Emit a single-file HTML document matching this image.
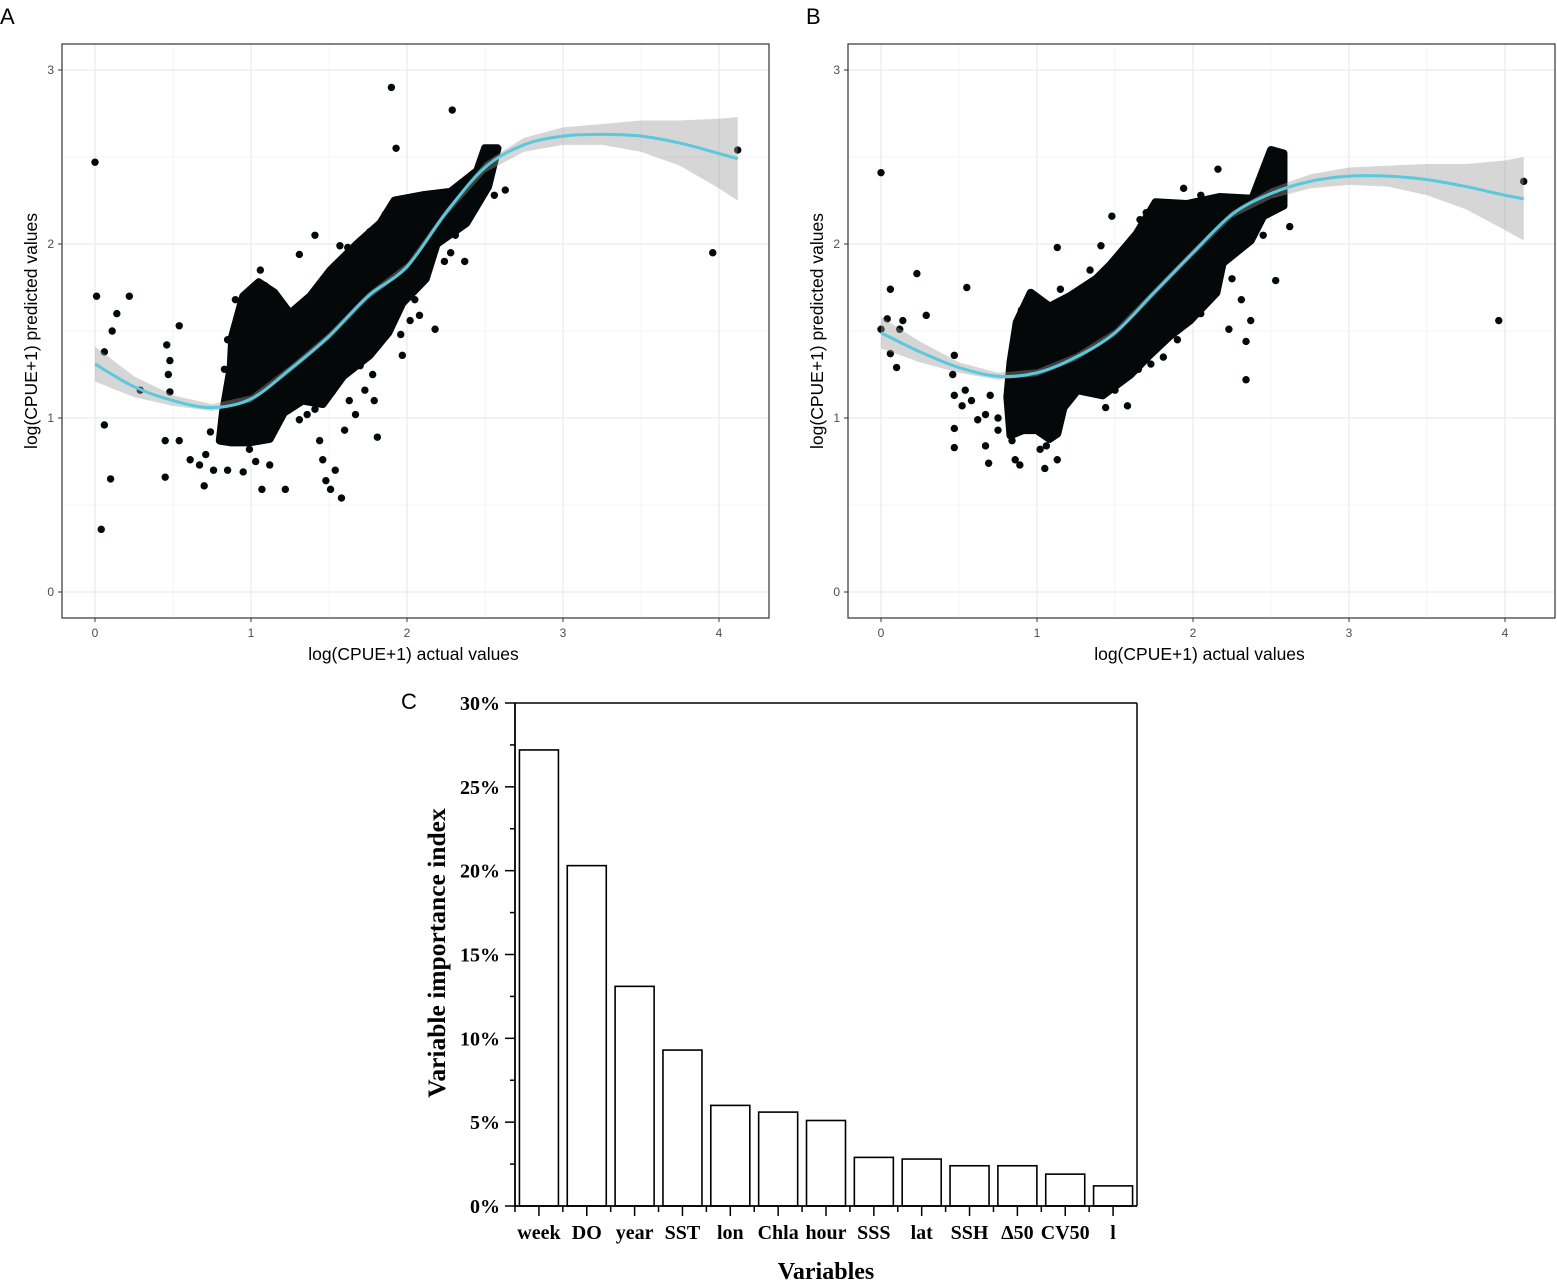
<!DOCTYPE html>
<html><head><meta charset="utf-8"><style>
html,body{margin:0;padding:0;background:#fff;}
svg{display:block;}
</style></head><body>
<svg id="fig" width="1557" height="1280" xmlns="http://www.w3.org/2000/svg">
<text x="0" y="24" font-family="Liberation Sans, sans-serif" font-size="22" fill="#000">A</text>
<text x="806" y="24" font-family="Liberation Sans, sans-serif" font-size="22" fill="#000">B</text>
<text x="401" y="709" font-family="Liberation Sans, sans-serif" font-size="22" fill="#000">C</text>
</svg>
<script>
// ---------- Panel A data ----------
const curveAx = [0,0.25,0.5,0.75,1.0,1.25,1.5,1.75,2.0,2.25,2.5,2.75,3.0,3.25,3.5,3.75,4.0,4.12];
const curveAy = [1.31,1.18,1.10,1.06,1.11,1.28,1.47,1.70,1.87,2.18,2.44,2.57,2.62,2.63,2.62,2.58,2.52,2.49];
const bandAw  = [0.10,0.06,0.03,0.02,0.02,0.02,0.02,0.02,0.02,0.02,0.03,0.04,0.05,0.06,0.09,0.13,0.20,0.24];
const cloudA = [[0.80,0.87],[0.82,1.03],[0.87,1.29],[0.88,1.47],[0.95,1.70],[1.05,1.78],[1.15,1.72],[1.25,1.60],[1.38,1.70],[1.51,1.85],[1.68,2.00],[1.83,2.12],[1.92,2.25],[2.10,2.28],[2.28,2.30],[2.45,2.42],[2.50,2.55],[2.58,2.55],[2.52,2.33],[2.38,2.12],[2.19,2.00],[2.12,1.80],[1.97,1.66],[1.88,1.49],[1.76,1.36],[1.59,1.24],[1.46,1.08],[1.33,1.10],[1.21,1.03],[1.12,0.88],[0.99,0.86],[0.87,0.86]];
const pointsA = [[0,2.47],[0.01,1.70],[0.22,1.70],[0.14,1.60],[0.11,1.50],[0.06,1.38],[0.06,0.96],[0.10,0.65],[0.04,0.36],[0.29,1.16],[4.12,2.54],[3.96,1.95],[1.90,2.90],[1.93,2.55],[2.29,2.77],
[0.54,1.53],[0.46,1.42],[0.48,1.33],[0.47,1.25],[0.48,1.15],[0.45,0.87],[0.45,0.66],[0.54,0.87],[0.61,0.76],[0.70,0.61],[0.67,0.73],[0.74,0.92],[0.76,0.70],[0.71,0.79],[0.85,0.70],[0.95,0.69],[1.07,0.59],[1.22,0.59],[1.12,0.73],[0.99,0.82],[1.03,0.75],
[1.44,0.87],[1.46,0.76],[1.48,0.64],[1.51,0.59],[1.58,0.54],[1.54,0.70],[1.31,0.99],[1.60,0.93],[1.63,1.10],[1.81,0.89],[1.79,1.10],[1.78,1.25],[1.73,1.16],[1.67,1.02],
[1.97,1.36],[2.02,1.56],[2.08,1.59],[2.18,1.51],[2.24,1.90],[2.37,1.90],[2.47,2.31],[2.63,2.31],[2.56,2.28],[2.31,2.05],[2.12,1.88],[2.05,1.68],[1.96,1.48],
[1.41,2.05],[1.31,1.94],[1.06,1.85],[1.09,1.76],[0.93,1.56],[0.85,1.45],[0.90,1.68],[1.12,1.62],[0.99,1.39],[0.83,1.28],[1.25,1.45],[1.57,1.99],[1.86,2.17],[1.76,2.07],
[1.25,1.19],[1.31,1.28],[1.15,1.10],[0.93,1.10],[0.96,0.99],[1.51,1.22],[1.41,1.05],
[1.18,1.50],[1.32,1.62],[1.45,1.78],[1.62,1.93],[2.00,2.20],[2.22,2.22],[2.40,2.20],[1.70,1.30],[1.52,1.15],[1.36,1.02],[0.90,0.95],[1.05,0.92],[1.62,1.98],[2.05,1.75],[2.28,1.95]];

// ---------- Panel B data ----------
const curveBx = [0,0.25,0.5,0.75,1.0,1.25,1.5,1.75,2.0,2.25,2.5,2.75,3.0,3.25,3.5,3.75,4.0,4.12];
const curveBy = [1.49,1.38,1.29,1.24,1.26,1.35,1.49,1.72,1.95,2.17,2.29,2.36,2.39,2.39,2.37,2.33,2.28,2.26];
const bandBw  = [0.09,0.06,0.03,0.02,0.02,0.02,0.02,0.02,0.02,0.02,0.03,0.04,0.05,0.06,0.09,0.13,0.20,0.24];
const cloudB = [[0.83,1.32],[0.87,1.55],[0.96,1.72],[1.08,1.64],[1.21,1.70],[1.38,1.80],[1.47,1.88],[1.64,2.06],[1.76,2.24],[1.96,2.23],[2.17,2.27],[2.38,2.26],[2.50,2.54],[2.58,2.52],[2.58,2.22],[2.45,2.16],[2.37,2.02],[2.19,1.89],[2.15,1.72],[1.98,1.56],[1.85,1.47],[1.72,1.36],[1.60,1.25],[1.42,1.13],[1.26,1.16],[1.17,1.06],[1.13,0.91],[1.08,0.88],[1.00,0.93],[0.91,0.93],[0.83,0.90],[0.81,1.12]];
const pointsB = [[0,2.41],[0.06,1.74],[0.23,1.83],[0.29,1.59],[0.55,1.75],[0.04,1.57],[0.14,1.56],[0,1.51],[0.12,1.51],[0.06,1.37],[0.10,1.29],[4.12,2.36],[3.96,1.56],[1.13,1.98],[1.48,2.16],[1.94,2.32],[2.16,2.43],[2.62,2.10],[2.53,1.79],[2.34,1.22],[2.34,1.44],[2.37,1.56],[2.23,1.51],[2.31,1.68],[2.04,1.68],[1.81,1.35],[1.73,1.31],[1.58,1.07],[1.44,1.06],[1.41,1.20],[1.21,1.68],[1.15,1.74],[1.34,1.85],[1.41,1.99],[1.66,2.14],
[0.47,1.36],[0.46,1.25],[0.47,1.13],[0.47,0.94],[0.47,0.83],[0.54,1.16],[0.52,1.07],[0.58,1.10],[0.62,0.99],[0.67,1.02],[0.69,0.74],[0.67,0.84],[0.75,1.00],[0.75,0.93],[0.70,1.13],[0.83,0.99],[0.84,0.87],[0.86,0.76],[0.89,0.73],[1.02,0.82],[1.05,0.71],[1.13,0.76],[1.06,0.84],[0.96,1.10],[1.15,1.22],[1.24,1.22],[1.31,1.15],
[1.30,1.75],[1.55,1.95],[1.70,2.18],[2.05,2.28],[2.30,2.24],[2.45,2.05],[2.25,1.80],[2.05,1.60],[1.90,1.45],[1.65,1.28],[1.50,1.16],[0.90,1.62],[1.00,1.05],[1.20,1.10]];

const xTicks = [0,1,2,3,4];
const yTicks = [0,1,2,3];

// ---------- Panel C data ----------
const categories = ["week","DO","year","SST","lon","Chla","hour","SSS","lat","SSH","\u039450","CV50","l"];
const importance = [27.2,20.3,13.1,9.3,6.0,5.6,5.1,2.9,2.8,2.4,2.4,1.9,1.2];
const yTicksC = [0,5,10,15,20,25,30];
const yTickLabelsC = ["0%","5%","10%","15%","20%","25%","30%"];

const NS = "http://www.w3.org/2000/svg";
const svg = document.getElementById('fig');
function mk(tag, attrs, parent){
  const e = document.createElementNS(NS, tag);
  for (const k in attrs) e.setAttribute(k, attrs[k]);
  (parent||svg).appendChild(e);
  return e;
}

function scatterPanel(id, left, x0px, curveX, curveY, bandW, cloud, pts){
  const g = mk('g', {});
  
  
  const top = 44, right = left + 707, bottom = 618;
  const sx = v => x0px + v * 156;
  const sy = v => 592 - v * 174;
  mk('rect', {x:left, y:top, width:707, height:574, fill:'#fff'}, g);
  for (let v = -0.5; v <= 4.5; v += 1) { const X = sx(v); if (X > left && X < right) mk('line', {x1:X, x2:X, y1:top, y2:bottom, stroke:'#f4f4f4', 'stroke-width':1}, g); }
  for (let v = -0.5; v <= 3.5; v += 1) { const Y = sy(v); if (Y > top && Y < bottom) mk('line', {x1:left, x2:right, y1:Y, y2:Y, stroke:'#f4f4f4', 'stroke-width':1}, g); }
  xTicks.forEach(v => {
    const X = sx(v);
    mk('line', {x1:X, x2:X, y1:top, y2:bottom, stroke:'#ebebeb', 'stroke-width':1.3}, g);
    mk('line', {x1:X, x2:X, y1:bottom, y2:bottom+4, stroke:'#333', 'stroke-width':1}, g);
    const t = mk('text', {x:X, y:bottom+19, 'text-anchor':'middle', 'font-family':'Liberation Sans, sans-serif', 'font-size':12, fill:'#4d4d4d'}, g);
    t.textContent = v;
    
    
  });
  yTicks.forEach(v => {
    const Y = sy(v);
    mk('line', {x1:left, x2:right, y1:Y, y2:Y, stroke:'#ebebeb', 'stroke-width':1.3}, g);
    mk('line', {x1:left-4, x2:left, y1:Y, y2:Y, stroke:'#333', 'stroke-width':1}, g);
    const t = mk('text', {x:left-8, y:Y+4, 'text-anchor':'end', 'font-family':'Liberation Sans, sans-serif', 'font-size':12, fill:'#4d4d4d'}, g);
    t.textContent = v;
    
    
  });
  const cp = mk('polygon', {points: cloud.map(p => sx(p[0]) + ',' + sy(p[1])).join(' '), fill:'#050808', stroke:'#050808', 'stroke-width':8, 'stroke-linejoin':'round'}, g);
  
  
  pts.forEach(p => {
    const c = mk('circle', {cx:sx(p[0]), cy:sy(p[1]), r:3.7, fill:'#050808'}, g);
    
    
  });
  let up = curveX.map((v,i) => sx(v) + ',' + sy(curveY[i] + bandW[i]));
  let lo = curveX.map((v,i) => sx(v) + ',' + sy(curveY[i] - bandW[i])).reverse();
  const band = mk('polygon', {points: up.concat(lo).join(' '), fill:'#999', 'fill-opacity':0.4}, g);
  
  
  const P = curveX.map((v,i) => [sx(v), sy(curveY[i])]);
  let d = 'M' + P[0][0] + ',' + P[0][1];
  for (let i = 0; i < P.length - 1; i++) {
    const p0 = P[Math.max(0,i-1)], p1 = P[i], p2 = P[i+1], p3 = P[Math.min(P.length-1,i+2)];
    const c1 = [p1[0] + (p2[0]-p0[0])/6, p1[1] + (p2[1]-p0[1])/6];
    const c2 = [p2[0] - (p3[0]-p1[0])/6, p2[1] - (p3[1]-p1[1])/6];
    d += ' C' + c1 + ' ' + c2 + ' ' + p2;
  }
  const ln = mk('path', {d:d, fill:'none', stroke:'#5bc8dc', 'stroke-width':3}, g);
  
  
  mk('rect', {x:left, y:top, width:707, height:574, fill:'none', stroke:'#333', 'stroke-width':1.2}, g);
  const xt = mk('text', {x:(left+right)/2 - 2, y:660, 'text-anchor':'middle', 'font-family':'Liberation Sans, sans-serif', 'font-size':17.5, fill:'#000'}, g);
  xt.textContent = 'log(CPUE+1) actual values';
  
  
  const yx = left - 25;
  const yt = mk('text', {x:yx, y:331, 'text-anchor':'middle', 'font-family':'Liberation Sans, sans-serif', 'font-size':17.5, fill:'#000', transform:'rotate(-90 ' + yx + ' 331)'}, g);
  yt.textContent = 'log(CPUE+1) predicted values';
  
  
}

scatterPanel('panel-a', 62, 95, curveAx, curveAy, bandAw, cloudA, pointsA);
scatterPanel('panel-b', 848, 881, curveBx, curveBy, bandBw, cloudB, pointsB);

(function(){
  const g = mk('g', {});
  
  
  const L = 515, R = 1137, T = 703, B = 1206;
  const band = (R - L) / categories.length;
  const sy = v => B - v / 30 * (B - T);
  const serif = 'Liberation Serif, serif';
  importance.forEach((v,i) => {
    const cx = L + band * (i + 0.5);
    const r = mk('rect', {x:cx - 19.5, y:sy(v), width:39, height:B - sy(v), fill:'#fff', stroke:'#000', 'stroke-width':1.6}, g);
    
    
    mk('line', {x1:cx, x2:cx, y1:B, y2:B+10, stroke:'#000', 'stroke-width':1.5}, g);
    mk('line', {x1:L + band*i, x2:L + band*i, y1:B, y2:B+6, stroke:'#000', 'stroke-width':1.5}, g);
    const t = mk('text', {x:cx, y:1239, 'text-anchor':'middle', 'font-family':serif, 'font-weight':'bold', 'font-size':20, fill:'#000'}, g);
    t.textContent = categories[i];
    
    
  });
  yTicksC.forEach((v,i) => {
    const Y = sy(v);
    mk('line', {x1:L-10, x2:L, y1:Y, y2:Y, stroke:'#000', 'stroke-width':1.5}, g);
    if (v < 30) mk('line', {x1:L-5, x2:L, y1:sy(v+2.5), y2:sy(v+2.5), stroke:'#000', 'stroke-width':1.5}, g);
    const t = mk('text', {x:L-15, y:Y+7, 'text-anchor':'end', 'font-family':serif, 'font-weight':'bold', 'font-size':20, fill:'#000'}, g);
    t.textContent = yTickLabelsC[i];
    
    
  });
  mk('line', {x1:L, x2:R, y1:B, y2:B, stroke:'#000', 'stroke-width':1.8}, g);
  mk('line', {x1:L, x2:L, y1:T, y2:B, stroke:'#000', 'stroke-width':1.8}, g);
  mk('line', {x1:L, x2:R, y1:T, y2:T, stroke:'#000', 'stroke-width':1.5}, g);
  mk('line', {x1:R, x2:R, y1:T, y2:B, stroke:'#000', 'stroke-width':1.5}, g);
  const xt = mk('text', {x:826, y:1279, 'text-anchor':'middle', 'font-family':serif, 'font-weight':'bold', 'font-size':24, fill:'#000'}, g);
  xt.textContent = 'Variables';
  
  
  const yt = mk('text', {x:445, y:953, 'text-anchor':'middle', 'font-family':serif, 'font-weight':'bold', 'font-size':25.5, fill:'#000', transform:'rotate(-90 445 953)'}, g);
  yt.textContent = 'Variable importance index';
  
  
})();
</script>
</body></html>
